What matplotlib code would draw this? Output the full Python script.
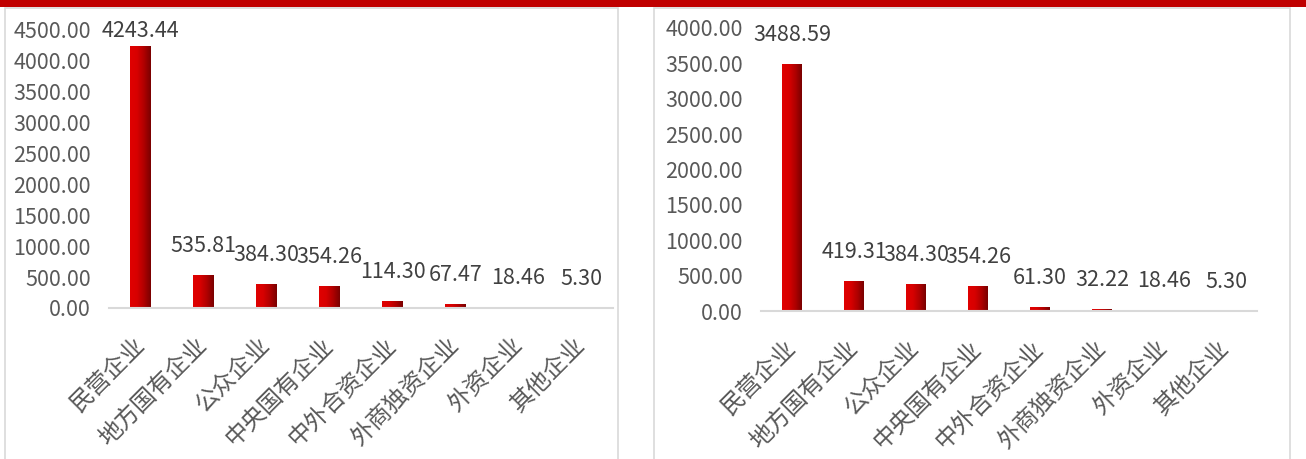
import numpy as np
import matplotlib
matplotlib.use("Agg")
import matplotlib.pyplot as plt
from matplotlib.colors import LinearSegmentedColormap
from matplotlib.patches import Rectangle

plt.rcParams["font.family"] = ["Noto Sans CJK SC", "DejaVu Sans"]

# 企业性质分布（左：全部；右：剔除部分样本后）
categories = ["民营企业", "地方国有企业", "公众企业", "中央国有企业",
              "中外合资企业", "外商独资企业", "外资企业", "其他企业"]
values_left = [4243.44, 535.81, 384.30, 354.26, 114.30, 67.47, 18.46, 5.30]
values_right = [3488.59, 419.31, 384.30, 354.26, 61.30, 32.22, 18.46, 5.30]
yticks_left = [0, 500, 1000, 1500, 2000, 2500, 3000, 3500, 4000, 4500]
yticks_right = [0, 500, 1000, 1500, 2000, 2500, 3000, 3500, 4000]

W, H = 1306, 459
fig = plt.figure(figsize=(W / 100, H / 100), dpi=100)

# red band across the top + light frames around each panel
fig.add_artist(Rectangle((0, 1 - 7 / H), 1, 7 / H, transform=fig.transFigure,
                         color="#c00000", lw=0, zorder=5))
for x0, x1 in [(5, 618), (654, 1290)]:
    fig.add_artist(Rectangle((x0 / W, -0.01), (x1 - x0) / W, 1 - 8 / H + 0.01,
                             transform=fig.transFigure, fill=False,
                             edgecolor="#d9d9d9", lw=1.2, zorder=1))

bar_cmap = LinearSegmentedColormap.from_list(
    "bar", ["#e00000", "#d80000", "#b00000", "#7a0000"])
grad = np.linspace(0, 1, 64).reshape(1, -1)


def draw_panel(rect, values, yticks):
    ax = fig.add_axes(rect)
    ymax = yticks[-1]
    x = np.arange(len(categories))
    bars = ax.bar(x, values, width=0.32, facecolor="none", edgecolor="none")
    for b in bars:
        im = ax.imshow(grad, cmap=bar_cmap, aspect="auto",
                       extent=[b.get_x(), b.get_x() + b.get_width(), 0, b.get_height()],
                       zorder=2)
        im.set_clip_path(b)

    ax.set_xlim(-0.5, len(categories) - 0.5)
    ax.set_ylim(0, ymax)
    ax.set_yticks(yticks)
    ax.set_yticklabels([f"{v:.2f}" for v in yticks])
    ax.set_xticks(x)
    ax.set_xticklabels(categories, rotation=45, ha="right", va="center",
                       rotation_mode="anchor")
    ax.tick_params(axis="y", length=0, pad=13, labelsize=15.5, labelcolor="#595959")
    ax.tick_params(axis="x", length=0, pad=24, labelsize=17, labelcolor="#595959")
    for s in ["top", "right", "left"]:
        ax.spines[s].set_visible(False)
    ax.spines["bottom"].set_color("#d9d9d9")
    ax.spines["bottom"].set_linewidth(1.5)
    ax.spines["bottom"].set_zorder(3)

    # data labels sit ~29 px above the bar, but stay inside the plot area
    ppu = rect[3] * H / ymax
    for xi, v in zip(x, values):
        off = min(29, (ymax - v) * ppu - 1)
        ax.annotate(f"{v:.2f}", xy=(xi, v), xytext=(0, off * 0.72),
                    textcoords="offset points", ha="center", va="center",
                    fontsize=15.5, color="#404040")
    return ax


draw_panel([109 / W, 1 - 308 / H, 504 / W, 278 / H], values_left, yticks_left)
draw_panel([761 / W, 1 - 311 / H, 496 / W, 283 / H], values_right, yticks_right)

fig.savefig("out.png", dpi=100)
